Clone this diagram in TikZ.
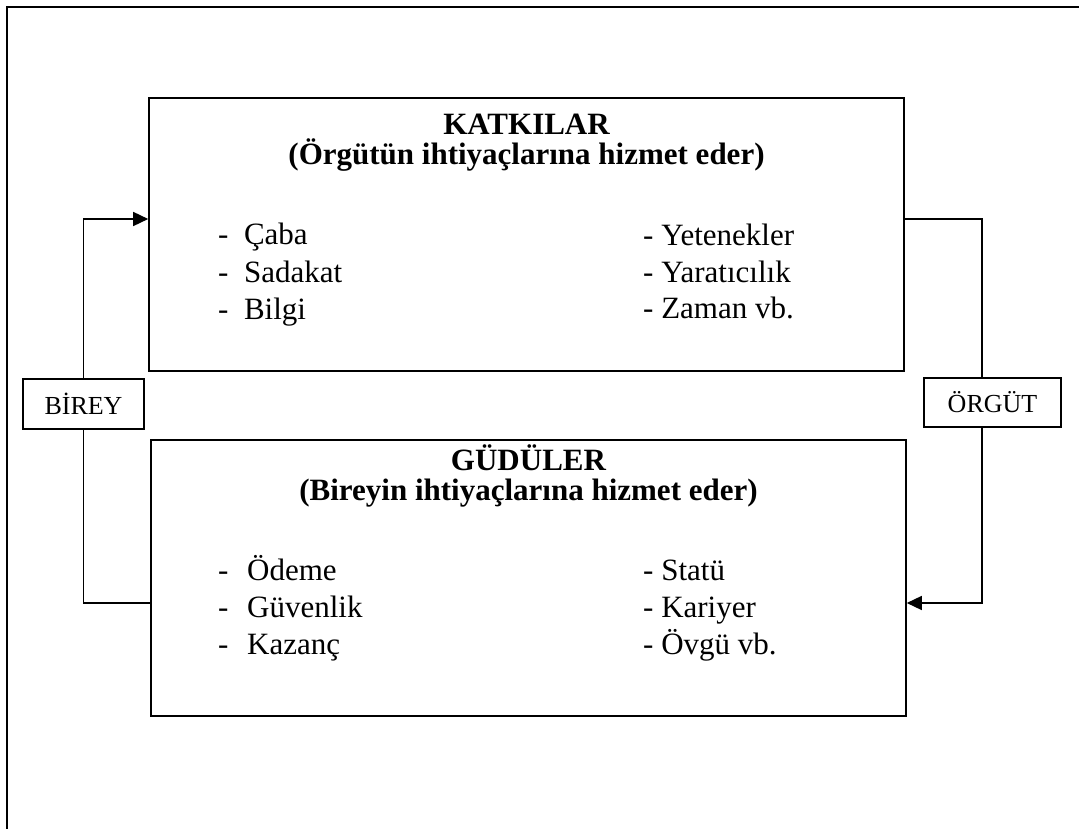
\documentclass[tikz,border=0pt]{standalone}
\usepackage{fontspec}
\setmainfont{Liberation Serif}
\usetikzlibrary{arrows.meta,calc}
\begin{document}
\begin{tikzpicture}[x=1pt,y=-1pt,
  framelines/.style={draw=black,line width=1.8pt},
  bigbox/.style={draw=black,line width=1.6pt,inner sep=0pt,minimum width=755pt},
  labelbox/.style={draw=black,line width=1.5pt,inner sep=0pt,font=\fontsize{26}{30}\selectfont},
  conn/.style={draw=black,line width=1.5pt},
  tip/.style={-{Triangle[length=15pt,width=14pt]}},
  title/.style={inner sep=0pt,anchor=base,font=\bfseries\fontsize{31}{37}\selectfont},
  item/.style={inner sep=0pt,anchor=base west,font=\fontsize{31}{37}\selectfont}
]
\useasboundingbox (0,0) rectangle (1079,829);
% outer frame (only top and left sides visible)
\draw[framelines] (7,829) -- (7,7) -- (1079,7);

% main boxes
\node[bigbox,minimum height=273pt] (katki) at (526.5,234.5) {};
\node[bigbox,minimum height=276pt] (gudu) at (528.5,578) {};

% side labels
\node[labelbox,minimum width=121pt,minimum height=50pt] (birey) at (83.5,404) {BİREY};
\node[labelbox,minimum width=137pt,minimum height=49pt] (orgut) at (992.5,402.5) {ÖRGÜT};

% connectors
\draw[conn,tip] (birey.north) |- (katki.west |- 0,219);
\draw[conn] (birey.south) |- (gudu.west |- 0,603);
\draw[conn] (katki.east |- 0,219) -| (orgut.north -| 982,0);
\draw[conn,tip] (orgut.south -| 982,0) |- (gudu.east |- 0,603);

% top box texts
\node[title] (t1) at (526.5,135) {KATKILAR};
\node[title] (t2) at (526.5,165) {(Örgütün ihtiyaçlarına hizmet eder)};
\node[item] (a1) at (218,244) {-\hspace{0.5em}Çaba};
\node[item] (a2) at (218,282) {-\hspace{0.5em}Sadakat};
\node[item] (a3) at (218,319) {-\hspace{0.5em}Bilgi};
\node[item] (b1) at (643,245) {- Yetenekler};
\node[item] (b2) at (643,282) {- Yaratıcılık};
\node[item] (b3) at (643,318) {- Zaman vb.};

% bottom box texts
\node[title] (t3) at (528.5,470) {GÜDÜLER};
\node[title] (t4) at (528.5,500) {(Bireyin ihtiyaçlarına hizmet eder)};
\node[item] (c1) at (218,580) {-\hspace{0.6em}Ödeme};
\node[item] (c2) at (218,617) {-\hspace{0.6em}Güvenlik};
\node[item] (c3) at (218,654) {-\hspace{0.6em}Kazanç};
\node[item] (d1) at (643,580) {- Statü};
\node[item] (d2) at (643,617) {- Kariyer};
\node[item] (d3) at (643,654) {- Övgü vb.};
\end{tikzpicture}
\end{document}
